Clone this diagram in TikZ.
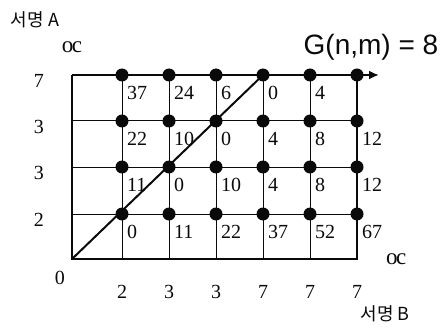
\documentclass[tikz,border=0pt]{standalone}
\usepackage{fontspec}
\setmainfont{Liberation Serif}
\newfontfamily\hangul{Noto Sans CJK KR}
\newfontfamily\gsans{Liberation Sans}
\usepackage{tikz}
\usetikzlibrary{positioning,arrows.meta}
\usepackage{xcolor}
\definecolor{ink}{HTML}{0A0A0A}
\newcommand{\num}[1]{{\fontsize{20}{23}\selectfont #1}}
\newcommand{\infy}{{\fontsize{23}{26}\selectfont o\kern-1.5pt c}}

\begin{document}
\begin{tikzpicture}[x=1pt, y=1pt, every node/.style={inner sep=0pt, text=ink},
  thinline/.style={draw=ink, line width=1pt},
  thickline/.style={draw=ink, line width=2.8pt},
  diagline/.style={draw=ink, line width=2pt},
  dot/.style={circle, fill=ink, minimum size=13pt},
  cost/.style={font=\fontsize{20}{23}\selectfont, anchor=west}]
\useasboundingbox (0,0) rectangle (444,327);
% 1. grid points: column 0 and row 0 are the two axes
\foreach \i/\x in {0/72,1/122,2/169,3/216,4/263,5/310,6/357}
  \foreach \j/\y in {0/68,1/113,2/160,3/206,4/252}
    \coordinate (g-\i-\j) at (\x,\y);
\coordinate (tip) at (379,252);
% 2. thin inner lines, thick frame, arrow along the top
\foreach \i in {1,...,5} \draw[thinline] (g-\i-0) -- (g-\i-4);
\foreach \j in {1,2,3} \draw[thinline] (g-0-\j) -- (g-6-\j);
\draw[thickline] (g-0-4) -- (g-0-0) -- (g-6-0) -- (g-6-4);
\draw[thickline, -{Latex[length=10pt,width=9pt]}] (g-0-4) -- (tip);
\draw[diagline] (g-0-0) -- (g-4-4);
% 3. the dots on every inner grid point
\foreach \i in {1,...,6}
  \foreach \j in {1,...,4}
    \node[dot] (d-\i-\j) at (g-\i-\j) {};
% 4. costs below right of each dot
\foreach \j/\vals in {4/{37,24,6,0,4}, 3/{22,10,0,4,8,12}, 2/{11,0,10,4,8,12}, 1/{0,11,22,37,52,67}}
  \foreach \v [count=\i] in \vals
    \node[cost, right=5pt of g-\i-\j, yshift=-18pt] (c-\i-\j) {\v};
% 5. axis values
\foreach \j/\v in {4/7,3/3,2/3,1/2}
  \node[left=28pt of g-0-\j, yshift=-6pt] (a-\j) {\num{\v}};
\foreach \i/\v in {1/2,2/3,3/3,4/7,5/7,6/7}
  \node[below=26pt of g-\i-0] (b-\i) {\num{\v}};
\node[below left=12pt and 7pt of g-0-0] (zero) {\num{0}};
\node[above=22pt of g-0-4] (infa) {\infy};
\node[right=29pt of g-6-0] (infb) {\infy};
% 6. sequence names and the result
\node[font=\hangul\fontsize{18}{20}\selectfont] (seqa) at (35,307) {서명 A};
\node[font=\hangul\fontsize{18}{20}\selectfont] (seqb) at (385,13) {서명 B};
\node[font=\gsans\fontsize{28}{32}\selectfont] (res) at (371,280) {G(n,m) = 8};
\end{tikzpicture}
\end{document}
